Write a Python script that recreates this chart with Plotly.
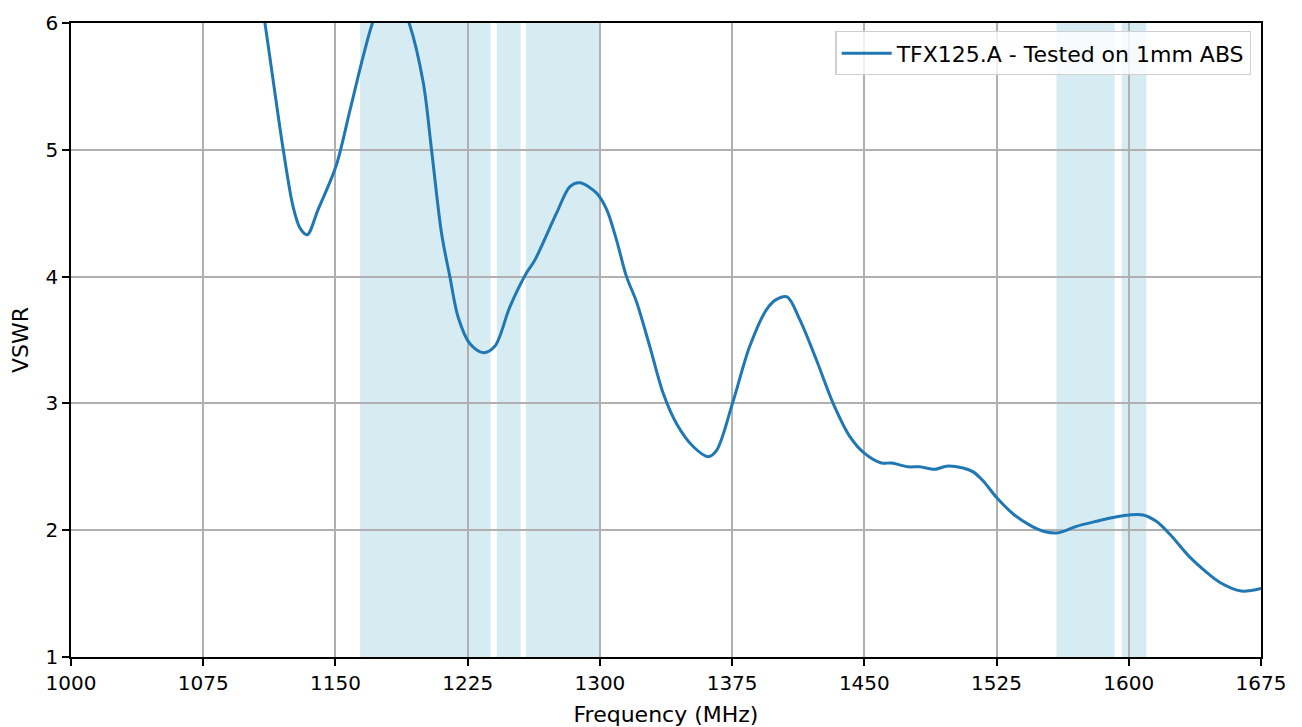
import plotly.graph_objects as go

# Measured VSWR curve (values above 6 are clipped by the axis range)
freq_mhz = [1085, 1098, 1110, 1120.4, 1126, 1130, 1134, 1140.2, 1150.3, 1158.2, 1165.8, 1171,
            1181, 1191.8, 1199.8, 1204.5, 1210.2, 1214.9, 1219.6, 1226.3, 1233.8, 1240.4,
            1248.9, 1258.4, 1263.1, 1275.4, 1283, 1288.6, 1298, 1303.8, 1309.4, 1315.1,
            1320.8, 1328.3, 1335.9, 1343.5, 1352.9, 1361.4, 1366.2, 1375.2, 1385, 1394.5,
            1400.2, 1406.2, 1413.4, 1422.9, 1432.3, 1441.7, 1449.8, 1459.7, 1465.4, 1474.8,
            1481.4, 1490, 1496.6, 1506, 1511.7, 1517.3, 1524.9, 1534.3, 1543.8, 1552, 1560,
            1570.3, 1581.6, 1591.1, 1600.5, 1608.1, 1615.6, 1623.2, 1634.5, 1644, 1651.5,
            1663.8, 1675]
vswr = [7.6, 7.1, 6.0, 5.0, 4.55, 4.38, 4.33, 4.53, 4.87, 5.31, 5.74, 6.0,
        6.35, 6.0, 5.53, 5.0, 4.34, 4.0, 3.68, 3.47, 3.40, 3.45,
        3.76, 4.03, 4.13, 4.5, 4.71, 4.74, 4.66, 4.53, 4.29, 4.0,
        3.80, 3.45, 3.08, 2.84, 2.66, 2.58, 2.63, 3.0, 3.45, 3.74,
        3.82, 3.84, 3.66, 3.34, 3.0, 2.74, 2.61, 2.53, 2.53, 2.50,
        2.50, 2.48, 2.505, 2.49, 2.46, 2.39, 2.26, 2.13, 2.04, 1.99, 1.98,
        2.03, 2.07, 2.10, 2.12, 2.12, 2.07, 1.97, 1.79, 1.67, 1.59,
        1.52, 1.54]

# Shaded frequency bands (start, end) in MHz
band_start = [1164, 1241.5, 1258, 1559, 1596]
band_end = [1238, 1255, 1300, 1592, 1610]

x_ticks = [1000, 1075, 1150, 1225, 1300, 1375, 1450, 1525, 1600, 1675]
y_ticks = [1, 2, 3, 4, 5, 6]

series_name = "TFX125.A - Tested on 1mm ABS"

FONT = "DejaVu Sans"

fig = go.Figure()
fig.add_trace(go.Scatter(
    x=freq_mhz, y=vswr, mode="lines", name=series_name,
    line=dict(color="#1f77b4", width=3, shape="spline", smoothing=0.9),
))

for s, e in zip(band_start, band_end):
    fig.add_vrect(x0=s, x1=e, fillcolor="rgba(173,216,230,0.5)", line_width=0,
                  layer="below")

axis_common = dict(
    showline=True, linecolor="black", linewidth=1.6, mirror=True,
    ticks="outside", ticklen=7, tickwidth=1.6, tickcolor="black",
    showgrid=True, gridcolor="#b0b0b0", gridwidth=1.6,
    zeroline=False, automargin=False,
    tickfont=dict(family=FONT, size=20, color="black"),
)

fig.update_xaxes(range=[1000, 1675], tickvals=x_ticks,
                 title=dict(text="Frequency (MHz)", font=dict(family=FONT, size=22, color="black"),
                            standoff=16),
                 **axis_common)
fig.update_yaxes(range=[1, 6], tickvals=y_ticks,
                 title=dict(text="VSWR", font=dict(family=FONT, size=22, color="black"),
                            standoff=12),
                 **axis_common)

fig.update_layout(
    width=1294, height=719,
    margin=dict(l=63, r=41, t=15, b=70, autoexpand=False),
    plot_bgcolor="white", paper_bgcolor="white",
    font=dict(family=FONT, size=20, color="black"),
    showlegend=True,
    legend=dict(x=0.992, y=0.987, xanchor="right", yanchor="top",
                bgcolor="rgba(255,255,255,0.8)", bordercolor="#d0d0d0", borderwidth=1.2,
                font=dict(family=FONT, size=22, color="black"), itemwidth=50),
)

fig.write_html("out.html")
